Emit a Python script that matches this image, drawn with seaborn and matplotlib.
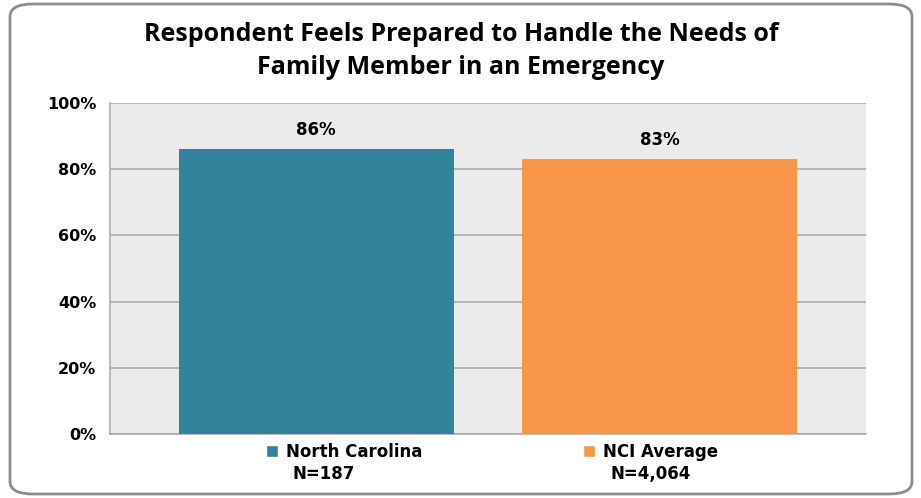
import matplotlib
matplotlib.use("Agg")
import matplotlib.pyplot as plt
from matplotlib.patches import FancyBboxPatch, Patch
import seaborn as sns
import pandas as pd

groups = ["North Carolina", "NCI Average"]
sample_sizes = ["N=187", "N=4,064"]
values = [86, 83]
colors = ["#31849B", "#F79646"]

df = pd.DataFrame({"group": groups, "value": values})

sns.set_style("white")
plt.rcParams["font.family"] = ["DejaVu Sans"]
plt.rcParams["text.color"] = "black"
plt.rcParams["ytick.labelcolor"] = "black"

fig = plt.figure(figsize=(9.21, 4.98), dpi=100)
ax = fig.add_axes([110 / 921, 1 - 434 / 498, (866 - 110) / 921, (434 - 103) / 498])

sns.barplot(data=df, x="group", y="value", hue="group", palette=colors,
            order=groups, hue_order=groups, dodge=False, width=0.8,
            saturation=1, legend=False, ax=ax, zorder=3, linewidth=0)

ax.set_facecolor("#EBEBEB")
ax.set_xlim(-0.6, 1.6)
ax.set_ylim(0, 100)
ax.set_yticks(range(0, 101, 20))
ax.set_yticklabels([f"{v}%" for v in range(0, 101, 20)], fontsize=11.5, fontweight="bold")
ax.set_xticks([])
ax.set_xlabel("")
ax.set_ylabel("")
ax.grid(axis="y", color="#A6A6A6", linewidth=1.1, zorder=0)
ax.set_axisbelow(True)
ax.tick_params(axis="y", direction="out", length=7, width=1.1, color="#A6A6A6", pad=3)
for side in ["top", "right"]:
    ax.spines[side].set_visible(False)
for side in ["left", "bottom"]:
    ax.spines[side].set_color("#A6A6A6")
    ax.spines[side].set_linewidth(1.1)

for i, v in enumerate(values):
    ax.text(i, v + 3, f"{v}%", ha="center", va="bottom", fontsize=12, fontweight="bold")

fig.text(461 / 921, 1 - 51 / 498,
         "Respondent Feels Prepared to Handle the Needs of\nFamily Member in an Emergency",
         ha="center", va="center", fontsize=18, fontweight="bold", family="Open Sans",
         linespacing=1.45)

# legend: one entry per group, with the sample size on a second line
legend_x = [266, 583]
n_x = [293, 610]
for g, n, c, lx, nx in zip(groups, sample_sizes, colors, legend_x, n_x):
    leg = fig.legend([Patch(facecolor=c)], [g], loc="center left",
                     bbox_to_anchor=(lx / 921, 1 - 452 / 498), frameon=False,
                     prop={"size": 12, "weight": "bold"}, borderpad=0, borderaxespad=0,
                     handlelength=0.72, handleheight=0.72, handletextpad=0.5)
    fig.text(nx / 921, 1 - 474 / 498, n, ha="left", va="center",
             fontsize=12, fontweight="bold")

border = FancyBboxPatch((10 / 921, 4 / 498), 902 / 921, 490 / 498,
                        boxstyle="round,pad=0,rounding_size=0.025",
                        transform=fig.transFigure, facecolor="none",
                        edgecolor="#8C8C8C", linewidth=2)
fig.patches.append(border)

fig.savefig("out.png", dpi=100)
